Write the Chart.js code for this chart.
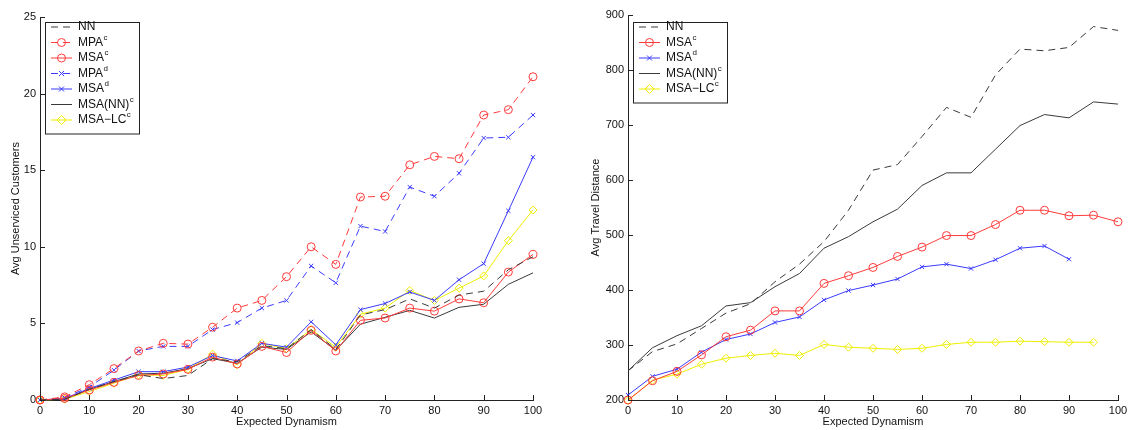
<!DOCTYPE html>
<html>
<head>
<meta charset="utf-8">
<script src="https://cdn.jsdelivr.net/npm/chart.js@4"></script>
<style>
  body { margin: 0; background: #fff; width: 1133px; height: 430px; overflow: hidden; position: relative; }
  .box { position: absolute; top: 0; height: 430px; }
</style>
</head>
<body>
<div class="box" style="left:0;width:560px"><canvas id="left"></canvas></div>
<div class="box" style="left:570px;width:563px"><canvas id="right"></canvas></div>
<script>
const dynamism = [0, 5, 10, 15, 20, 25, 30, 35, 40, 45, 50, 55, 60, 65, 70, 75, 80, 85, 90, 95, 100];

// left chart: avg unserviced customers
const leftNN     = [0, 0.05, 0.7, 1.2, 1.65, 1.4, 1.6, 2.7, 2.5, 3.55, 3.35, 4.6, 3.3, 5.55, 5.9, 6.6, 6.0, 6.85, 7.1, 8.5, 9.35];
const leftMPAc   = [0, 0.2, 1.0, 2.05, 3.2, 3.7, 3.65, 4.75, 6.0, 6.5, 8.05, 10.0, 8.85, 13.25, 13.3, 15.35, 15.9, 15.75, 18.6, 18.95, 21.1];
const leftMSAc   = [0, 0.1, 0.65, 1.15, 1.6, 1.7, 2.0, 2.8, 2.35, 3.5, 3.1, 4.55, 3.2, 5.2, 5.35, 6.0, 5.8, 6.6, 6.35, 8.35, 9.5];
const leftMPAd   = [0, 0.15, 0.85, 1.95, 3.2, 3.5, 3.5, 4.6, 5.05, 6.0, 6.5, 8.75, 7.65, 11.35, 11.0, 13.9, 13.3, 14.8, 17.1, 17.15, 18.6];
const leftMSAd   = [0, 0.1, 0.75, 1.3, 1.85, 1.85, 2.15, 2.9, 2.55, 3.7, 3.45, 5.1, 3.6, 5.9, 6.3, 7.05, 6.5, 7.85, 8.9, 12.35, 15.85];
const leftMSANNc = [0, 0.05, 0.7, 1.2, 1.7, 1.75, 2.05, 2.7, 2.4, 3.45, 3.3, 4.45, 3.25, 4.95, 5.4, 5.85, 5.35, 6.05, 6.25, 7.55, 8.3];
const leftMSALCc = [0, 0.05, 0.55, 1.1, 1.65, 1.6, 2.0, 3.0, 2.3, 3.7, 3.35, 4.6, 3.45, 5.6, 6.0, 7.15, 6.5, 7.3, 8.1, 10.4, 12.4];

// right chart: avg travel distance
const rightNN     = [253, 288, 302, 330, 358, 375, 415, 447, 488, 545, 618, 628, 679, 732, 714, 791, 838, 835, 841, 879, 872];
const rightMSAc   = [200, 235, 252, 282, 315, 327, 362, 362, 412, 426, 441, 461, 478, 499, 499, 519, 545, 545, 535, 536, 524];
const rightMSAd   = [209, 243, 256, 287, 310, 320, 341, 351, 382, 399, 409, 420, 442, 447, 439, 455, 476, 480, 456];
const rightMSANNc = [253, 295, 317, 335, 371, 377, 406, 430, 476, 497, 524, 547, 590, 613, 613, 656, 699, 719, 713, 742, 738];
const rightMSALCc = [199, 236, 247, 265, 276, 281, 285, 281, 301, 296, 294, 292, 294, 301, 305, 305, 307, 306, 305, 305];

const leftTicks = [0, 5, 10, 15, 20, 25];
const rightTicks = [200, 300, 400, 500, 600, 700, 800, 900];
const xTicks = [0, 10, 20, 30, 40, 50, 60, 70, 80, 90, 100];

const FONT = '"Liberation Sans", Arial, sans-serif';
const RED = '#ff3b3b', BLUE = '#3b3bff', BLACK = '#3a3a3a', YELLOW = '#eeee00';
const DASH = [7, 5];

function pts(vals) {
  return vals.map((v, i) => ({ x: dynamism[i], y: v }));
}

function series(name, sup, vals, color, dashed, marker) {
  return {
    label: name,
    sup: sup,
    data: pts(vals),
    borderColor: color,
    backgroundColor: 'rgba(0,0,0,0)',
    borderWidth: 1,
    borderDash: dashed ? DASH : [],
    pointStyle: marker || false,
    pointRadius: marker ? (marker === 'crossRot' ? 3 : 4) : 0,
    pointBorderColor: color,
    pointBackgroundColor: 'rgba(0,0,0,0)',
    pointBorderWidth: 1,
    tension: 0,
    clip: false
  };
}

// inward tick marks on both axes
const inwardTicks = {
  id: 'inwardTicks',
  afterDraw(chart) {
    const ctx = chart.ctx, a = chart.chartArea;
    const xs = chart.scales.x, ys = chart.scales.y;
    ctx.save();
    ctx.strokeStyle = '#222';
    ctx.lineWidth = 1;
    ctx.beginPath();
    xs.ticks.forEach(t => {
      const px = Math.round(xs.getPixelForValue(t.value)) + 0.5;
      ctx.moveTo(px, a.bottom); ctx.lineTo(px, a.bottom - 5);
    });
    ys.ticks.forEach(t => {
      const py = Math.round(ys.getPixelForValue(t.value)) + 0.5;
      ctx.moveTo(a.left, py); ctx.lineTo(a.left + 5, py);
    });
    ctx.stroke();
    ctx.restore();
  }
};

function drawMarker(ctx, style, x, y) {
  ctx.beginPath();
  if (style === 'circle') {
    ctx.arc(x, y, 4, 0, Math.PI * 2);
  } else if (style === 'crossRot') {
    ctx.moveTo(x - 2.5, y - 2.5); ctx.lineTo(x + 2.5, y + 2.5);
    ctx.moveTo(x + 2.5, y - 2.5); ctx.lineTo(x - 2.5, y + 2.5);
  } else if (style === 'rectRot') {
    ctx.moveTo(x, y - 4.5); ctx.lineTo(x + 4.5, y); ctx.lineTo(x, y + 4.5); ctx.lineTo(x - 4.5, y); ctx.closePath();
  }
  ctx.stroke();
}

// legend box with superscripts, drawn inside the plot
const boxLegend = {
  id: 'boxLegend',
  afterDraw(chart, args, opts) {
    const ctx = chart.ctx, a = chart.chartArea;
    const sets = chart.data.datasets;
    const x0 = a.left + 5, y0 = a.top + opts.top;
    const w = 94, rowH = 15.5, h = sets.length * rowH + 3;
    ctx.save();
    ctx.fillStyle = '#fff';
    ctx.fillRect(x0, y0, w, h);
    ctx.strokeStyle = '#222';
    ctx.lineWidth = 1;
    ctx.strokeRect(Math.round(x0) + 0.5, Math.round(y0) + 0.5, w, h);
    sets.forEach((ds, i) => {
      const cy = y0 + 5 + i * rowH;
      ctx.strokeStyle = ds.borderColor;
      ctx.setLineDash(ds.borderDash);
      ctx.beginPath();
      ctx.moveTo(x0 + 6, cy); ctx.lineTo(x0 + 27, cy);
      ctx.stroke();
      ctx.setLineDash([]);
      if (ds.pointStyle) drawMarker(ctx, ds.pointStyle, x0 + 16.5, cy);
      ctx.fillStyle = '#111';
      ctx.textBaseline = 'middle';
      ctx.font = '12px ' + FONT;
      ctx.fillText(ds.label, x0 + 33, cy);
      if (ds.sup) {
        const tw = ctx.measureText(ds.label).width;
        ctx.font = '8px ' + FONT;
        ctx.fillText(ds.sup, x0 + 33 + tw + 0.5, cy - 5);
      }
    });
    ctx.restore();
  }
};

function makeChart(id, datasets, yMin, yMax, yStep, yTitle, yWidth, titlePad, topPad, rightPad, legendTop) {
  return new Chart(document.getElementById(id), {
    type: 'line',
    data: { datasets: datasets },
    options: {
      responsive: true,
      maintainAspectRatio: false,
      animation: false,
      events: [],
      layout: { padding: { top: topPad, right: rightPad, left: 0, bottom: 0 } },
      plugins: { legend: { display: false }, tooltip: { enabled: false }, boxLegend: { top: legendTop } },
      scales: {
        x: {
          type: 'linear', min: 0, max: 100,
          afterBuildTicks: s => { s.ticks = xTicks.map(v => ({ value: v })); },
          afterFit: s => { s.height = 30; },
          grid: { display: false, drawTicks: false },
          border: { display: true, color: '#222', width: 1 },
          ticks: { font: { family: FONT, size: 11 }, color: '#111', padding: 4, maxRotation: 0 },
          title: { display: true, text: 'Expected Dynamism', font: { family: FONT, size: 11 }, color: '#111', padding: { top: 0, bottom: 1 } }
        },
        y: {
          min: yMin, max: yMax,
          afterBuildTicks: s => { const t = []; for (let v = yMin; v <= yMax; v += yStep) t.push({ value: v }); s.ticks = t; },
          afterFit: s => { s.width = yWidth; },
          grid: { display: false, drawTicks: false },
          border: { display: true, color: '#222', width: 1 },
          ticks: { font: { family: FONT, size: 11 }, color: '#111', padding: 4 },
          title: { display: true, text: yTitle, font: { family: FONT, size: 11 }, color: '#111', padding: { top: titlePad, bottom: 0 } }
        }
      }
    },
    plugins: [inwardTicks, boxLegend]
  });
}

makeChart('left', [
  series('NN', '', leftNN, BLACK, true, null),
  series('MPA', 'c', leftMPAc, RED, true, 'circle'),
  series('MSA', 'c', leftMSAc, RED, false, 'circle'),
  series('MPA', 'd', leftMPAd, BLUE, true, 'crossRot'),
  series('MSA', 'd', leftMSAd, BLUE, false, 'crossRot'),
  series('MSA(NN)', 'c', leftMSANNc, BLACK, false, null),
  series('MSA\u2212LC', 'c', leftMSALCc, YELLOW, false, 'rectRot')
], 0, 25, 5, 'Avg Unserviced Customers', 40, 9, 17, 27, 5);

makeChart('right', [
  series('NN', '', rightNN, BLACK, true, null),
  series('MSA', 'c', rightMSAc, RED, false, 'circle'),
  series('MSA', 'd', rightMSAd, BLUE, false, 'crossRot'),
  series('MSA(NN)', 'c', rightMSANNc, BLACK, false, null),
  series('MSA\u2212LC', 'c', rightMSALCc, YELLOW, false, 'rectRot')
], 200, 900, 100, 'Avg Travel Distance', 58, 19, 15, 15, 7);
</script>
</body>
</html>
